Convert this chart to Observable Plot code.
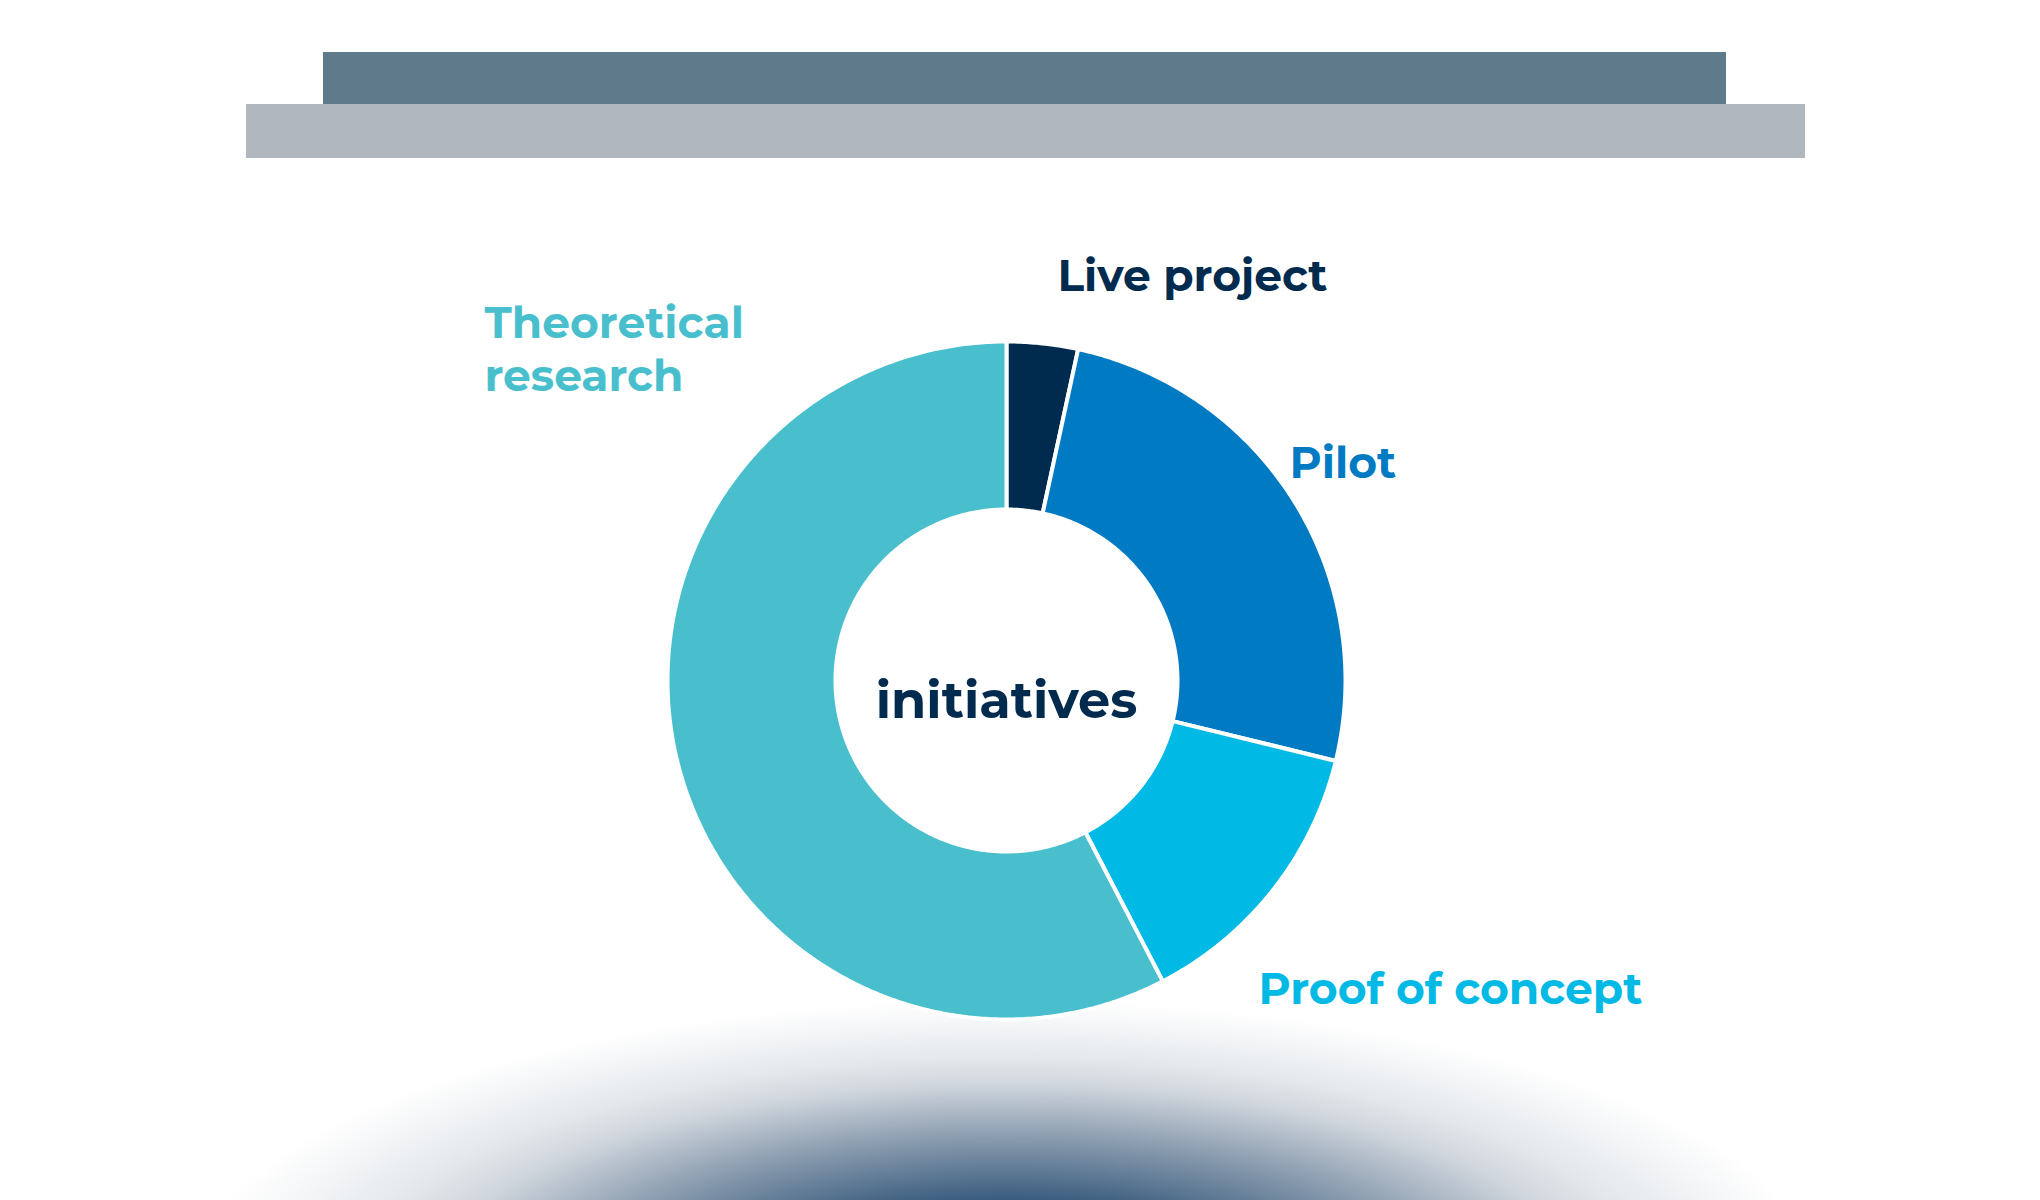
<!DOCTYPE html>
<html>
<head>
<meta charset="utf-8">
<script src="https://cdn.jsdelivr.net/npm/d3@7"></script>
<script src="https://cdn.jsdelivr.net/npm/@observablehq/plot@0.6"></script>
<style>
  html, body { margin: 0; padding: 0; background: #ffffff; }
  #stage { position: relative; width: 2040px; height: 1200px; overflow: hidden; background: #ffffff; }
  .bar { position: absolute; }
  #glow { position: absolute; left: 0; top: 0; width: 2040px; height: 1200px;
    background: radial-gradient(820px 290px at 1006px 1290px, #1e4266 0%, #3d5f80 32%, #8fa0b2 54%, #d0d6dd 71%, #e4e8ec 80%, rgba(255,255,255,0) 100%); }
  #chart { position: absolute; left: 0; top: 0; }
</style>
</head>
<body>
<div id="stage">
  <div id="glow"></div>
  <div class="bar" style="left:246px; top:104px; width:1559px; height:54px; background:#b0b7be;"></div>
  <div class="bar" style="left:323px; top:52px; width:1403px; height:52px; background:#5e7a8b;"></div>
  <div id="chart"></div>
</div>
<script>
// ---- data ----
const categories = ["Live project", "Pilot", "Proof of concept", "Theoretical research"];
const values = [2, 15, 8, 34];
const colors = ["#002a4e", "#007bc3", "#00b9e5", "#49bfce"];
const labelLines = [["Live project"], ["Pilot"], ["Proof of concept"], ["Theoretical", "research"]];
const centerLabel = "initiatives";

// ---- layout (pixels) ----
const W = 2040, H = 1200;
const CX = 1006, CY = 680, R = 339, RIN = 171;
const labelPos = [ // x (start), baselines
  {x: 1057, y: [290]},
  {x: 1289, y: [477]},
  {x: 1258, y: [1003]},
  {x: 484,  y: [337, 390]}
];
const toU = px => (px - CX) / R;
const toV = py => (CY - py) / R;

// slices via d3.pie
const pie = d3.pie().sort(null).value(d => d.value).startAngle(0).endAngle(2 * Math.PI);
const arcs = pie(categories.map((c, i) => ({cat: c, value: values[i]})));
const inner = RIN / R;
const pts = [];
for (const a of arcs) {
  const n = Math.max(8, Math.ceil((a.endAngle - a.startAngle) * 120));
  for (let k = 0; k <= n; k++) {
    const t = a.startAngle + (a.endAngle - a.startAngle) * k / n;
    pts.push({cat: a.data.cat, u: Math.sin(t), v: Math.cos(t)});
  }
  for (let k = n; k >= 0; k--) {
    const t = a.startAngle + (a.endAngle - a.startAngle) * k / n;
    pts.push({cat: a.data.cat, u: inner * Math.sin(t), v: inner * Math.cos(t)});
  }
}

const labels = [];
labelLines.forEach((lines, i) => {
  lines.forEach((s, j) => labels.push({text: s, cat: categories[i], u: toU(labelPos[i].x), v: toV(labelPos[i].y[j])}));
});

const font = "Montserrat, Lato, 'Open Sans', sans-serif";
const chart = Plot.plot({
  width: W, height: H,
  margin: 0,
  style: {background: "transparent"},
  x: {domain: [toU(0), toU(W)], axis: null},
  y: {domain: [toV(H), toV(0)], axis: null},
  color: {domain: categories, range: colors},
  marks: [
    Plot.line(pts, {x: "u", y: "v", z: "cat", fill: "cat", stroke: "white", strokeWidth: 4, curve: "linear-closed"}),
    Plot.text(labels, {x: "u", y: "v", text: "text", fill: "cat", textAnchor: "start", lineAnchor: "bottom",
      fontFamily: font, fontWeight: 700, fontSize: 44}),
    Plot.text([centerLabel], {x: [0], y: [toV(717)], text: d => d, fill: colors[0], textAnchor: "middle", lineAnchor: "bottom",
      fontFamily: font, fontWeight: 700, fontSize: 51})
  ]
});
document.getElementById("chart").appendChild(chart);
</script>
</body>
</html>
